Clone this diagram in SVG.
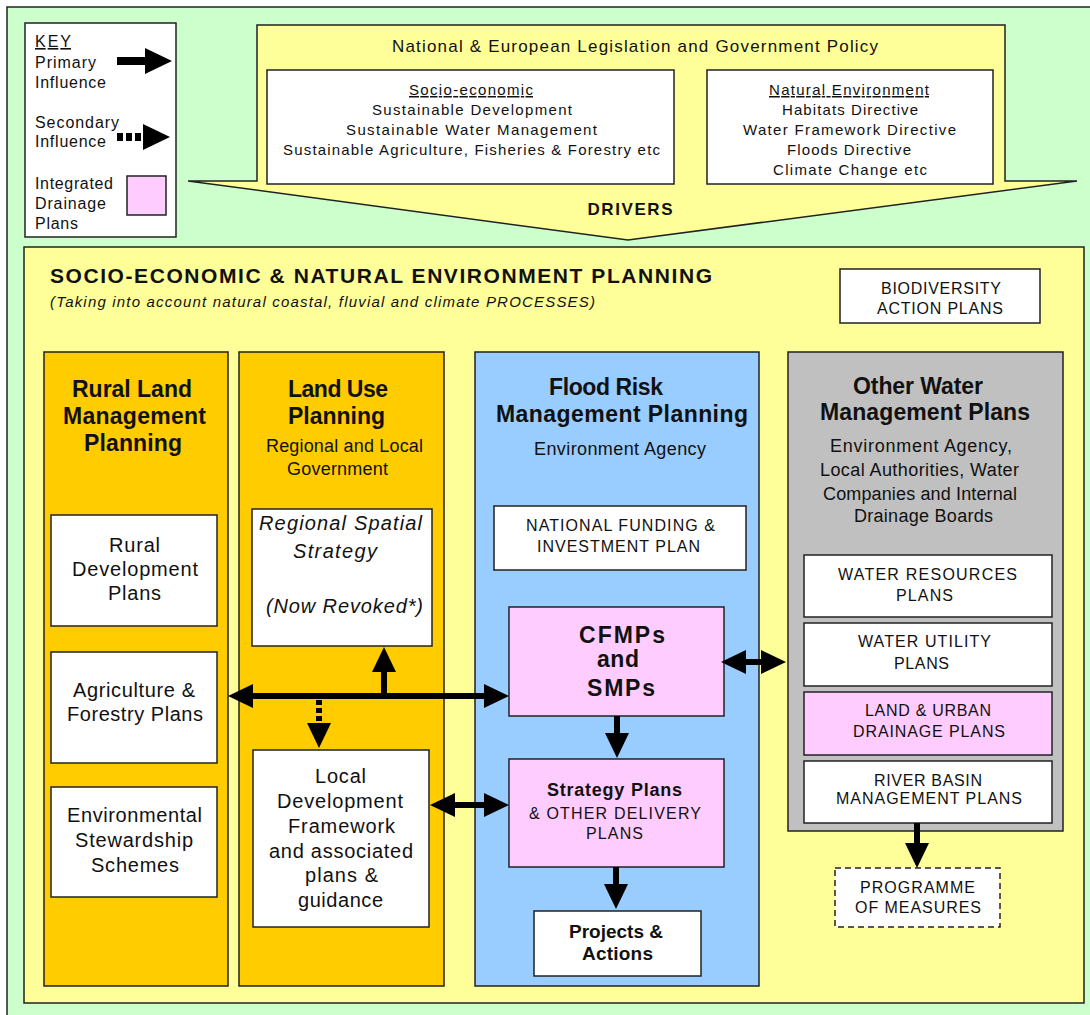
<svg xmlns="http://www.w3.org/2000/svg" width="1090" height="1015" viewBox="0 0 1090 1015">
<defs>
<style>
text{font-family:"Liberation Sans",Arial,sans-serif;fill:#111;}
.box{stroke:#222;stroke-width:1.5;}
.w{fill:#fff;}
.pk{fill:#ffccff;}
.ye{fill:#ffff99;}
.or{fill:#ffcc00;}
.bl{fill:#99ccff;}
.gr{fill:#c0c0c0;}
.c{text-anchor:middle;}
.k{font-size:16px;}
.s14{font-size:15px;}
.s15{font-size:16px;}
.s17{font-size:18px;}
.s18{font-size:20px;}
.hd{font-size:23px;font-weight:bold;}
.b{font-weight:bold;}
.it{font-style:italic;}
.u{text-decoration:underline;}
.arr{stroke:#000;stroke-width:6;fill:none;}
</style>
<marker id="ah" viewBox="0 -13 26 26" refX="0" refY="0" markerWidth="26" markerHeight="26" markerUnits="userSpaceOnUse" orient="auto-start-reverse" overflow="visible"><path d="M0,-12 L25,0 L0,12 z" fill="#000"/></marker>
<marker id="kh" viewBox="0 -14 28 28" refX="0" refY="0" markerWidth="28" markerHeight="28" markerUnits="userSpaceOnUse" orient="auto" overflow="visible"><path d="M0,-13 L27,0 L0,13 z" fill="#000"/></marker>
</defs>

<rect x="7" y="7" width="1095" height="1020" fill="#ccffcc" stroke="#222" stroke-width="1.5"/>

<g id="key">
<rect class="box w" x="25" y="23" width="151" height="214"/>
<text class="k u" x="35" y="47" textLength="36" lengthAdjust="spacing">KEY</text>
<text class="k" x="35" y="68" textLength="61" lengthAdjust="spacing">Primary</text>
<text class="k" x="35" y="88" textLength="71" lengthAdjust="spacing">Influence</text>
<text class="k" x="35" y="128" textLength="84" lengthAdjust="spacing">Secondary</text>
<text class="k" x="35" y="147" textLength="71" lengthAdjust="spacing">Influence</text>
<text class="k" x="35" y="189" textLength="78" lengthAdjust="spacing">Integrated</text>
<text class="k" x="35" y="209" textLength="71" lengthAdjust="spacing">Drainage</text>
<text class="k" x="35" y="229" textLength="43" lengthAdjust="spacing">Plans</text>
<line x1="117" y1="61" x2="145" y2="61" stroke="#000" stroke-width="8" marker-end="url(#kh)"/>
<line x1="117" y1="137" x2="143" y2="137" stroke="#000" stroke-width="8" stroke-dasharray="6 3" marker-end="url(#kh)"/>
<rect class="box pk" x="127" y="176" width="39" height="39"/>
</g>

<g id="drivers">
<polygon class="box ye" points="257,25 1005,25 1005,181 1077,181 628,240 188,181 257,181"/>
<text class="c" x="635" y="52" style="font-size:17px" textLength="486" lengthAdjust="spacing">National &amp; European Legislation and Government Policy</text>
<text class="c b" x="630" y="215" style="font-size:17px" textLength="85" lengthAdjust="spacing">DRIVERS</text>
</g>

<g id="socio-economic">
<rect class="box w" x="267" y="70" width="407" height="114"/>
<text class="c s14 u" x="471" y="95" textLength="124" lengthAdjust="spacing">Socio-economic</text>
<text class="c s14" x="472" y="115" textLength="200" lengthAdjust="spacing">Sustainable Development</text>
<text class="c s14" x="471.5" y="135" textLength="251" lengthAdjust="spacing">Sustainable Water Management</text>
<text class="c s14" x="471.5" y="155" textLength="377" lengthAdjust="spacing">Sustainable Agriculture, Fisheries &amp; Forestry etc</text>
</g>

<g id="natural-environment">
<rect class="box w" x="707" y="70" width="286" height="114"/>
<text class="c s14 u" x="849" y="95" textLength="160" lengthAdjust="spacing">Natural Environment</text>
<text class="c s14" x="850" y="115" textLength="136" lengthAdjust="spacing">Habitats Directive</text>
<text class="c s14" x="849.5" y="135" textLength="213" lengthAdjust="spacing">Water Framework Directive</text>
<text class="c s14" x="849" y="155" textLength="124" lengthAdjust="spacing">Floods Directive</text>
<text class="c s14" x="850" y="175" textLength="154" lengthAdjust="spacing">Climate Change etc</text>
</g>

<g id="planning">
<rect class="box ye" x="24" y="247" width="1060" height="756"/>
<text class="b" x="50" y="283" style="font-size:21px" textLength="662" lengthAdjust="spacing">SOCIO-ECONOMIC &amp; NATURAL ENVIRONMENT PLANNING</text>
<text class="it" x="50" y="307" style="font-size:15px" textLength="545" lengthAdjust="spacing">(Taking into account natural coastal, fluvial and climate PROCESSES)</text>
</g>

<g id="biodiversity">
<rect class="box w" x="840" y="269" width="200" height="54"/>
<text class="c s15" x="941" y="294" textLength="120" lengthAdjust="spacing">BIODIVERSITY</text>
<text class="c s15" x="940" y="314" textLength="126" lengthAdjust="spacing">ACTION PLANS</text>
</g>

<g id="rural-land">
<rect class="box or" x="44" y="352" width="184" height="634"/>
<text class="c hd" x="132" y="397" textLength="120" lengthAdjust="spacing">Rural Land</text>
<text class="c hd" x="134.5" y="424" textLength="143" lengthAdjust="spacing">Management</text>
<text class="c hd" x="133" y="451" textLength="98" lengthAdjust="spacing">Planning</text>
</g>

<g id="rural-development">
<rect class="box w" x="51" y="515" width="166" height="111"/>
<text class="c s18" x="134.5" y="552" textLength="51" lengthAdjust="spacing">Rural</text>
<text class="c s18" x="135" y="576" textLength="126" lengthAdjust="spacing">Development</text>
<text class="c s18" x="134.5" y="600" textLength="53" lengthAdjust="spacing">Plans</text>
</g>

<g id="agriculture">
<rect class="box w" x="51" y="652" width="166" height="111"/>
<text class="c s18" x="134" y="697" textLength="122" lengthAdjust="spacing">Agriculture &amp;</text>
<text class="c s18" x="135" y="721" textLength="136" lengthAdjust="spacing">Forestry Plans</text>
</g>

<g id="stewardship">
<rect class="box w" x="51" y="787" width="166" height="110"/>
<text class="c s18" x="134.5" y="822" textLength="135" lengthAdjust="spacing">Environmental</text>
<text class="c s18" x="134" y="847" textLength="118" lengthAdjust="spacing">Stewardship</text>
<text class="c s18" x="135" y="872" textLength="88" lengthAdjust="spacing">Schemes</text>
</g>

<g id="land-use">
<rect class="box or" x="239" y="352" width="205" height="634"/>
<text class="c hd" x="338" y="397" textLength="100" lengthAdjust="spacing">Land Use</text>
<text class="c hd" x="336.5" y="424" textLength="97" lengthAdjust="spacing">Planning</text>
<text class="c s17" x="344.5" y="452" textLength="157" lengthAdjust="spacing">Regional and Local</text>
<text class="c s17" x="337.5" y="475" textLength="101" lengthAdjust="spacing">Government</text>
</g>

<g id="regional-spatial">
<rect class="box w" x="252" y="509" width="180" height="137"/>
<text class="c s18 it" x="340.5" y="530" textLength="163" lengthAdjust="spacing">Regional Spatial</text>
<text class="c s18 it" x="335" y="558" textLength="84" lengthAdjust="spacing">Strategy</text>
<text class="c s18 it" x="344.5" y="613" textLength="157" lengthAdjust="spacing">(Now Revoked*)</text>
</g>

<g id="local-development">
<rect class="box w" x="253" y="750" width="176" height="177"/>
<text class="c s18" x="340.5" y="783" textLength="51" lengthAdjust="spacing">Local</text>
<text class="c s18" x="340" y="808" textLength="126" lengthAdjust="spacing">Development</text>
<text class="c s18" x="341.5" y="833" textLength="107" lengthAdjust="spacing">Framework</text>
<text class="c s18" x="341" y="858" textLength="144" lengthAdjust="spacing">and associated</text>
<text class="c s18" x="341.5" y="882" textLength="73" lengthAdjust="spacing">plans &amp;</text>
<text class="c s18" x="340.5" y="907" textLength="85" lengthAdjust="spacing">guidance</text>
</g>

<g id="flood-risk">
<rect class="box bl" x="475" y="352" width="284" height="634"/>
<text class="c hd" x="606" y="395" textLength="114" lengthAdjust="spacing">Flood Risk</text>
<text class="c hd" x="622" y="422" textLength="252" lengthAdjust="spacing">Management Planning</text>
<text class="c s17" x="620" y="455" textLength="172" lengthAdjust="spacing">Environment Agency</text>
</g>

<g id="national-funding">
<rect class="box w" x="494" y="506" width="252" height="64"/>
<text class="c s15" x="620.5" y="531" textLength="189" lengthAdjust="spacing">NATIONAL FUNDING &amp;</text>
<text class="c s15" x="618.5" y="552" textLength="163" lengthAdjust="spacing">INVESTMENT PLAN</text>
</g>

<g id="cfmps">
<rect class="box pk" x="509" y="607" width="215" height="109"/>
<text class="c hd" x="622" y="643" textLength="86" lengthAdjust="spacing">CFMPs</text>
<text class="c hd" x="618" y="667" textLength="42" lengthAdjust="spacing">and</text>
<text class="c hd" x="621" y="696" textLength="68" lengthAdjust="spacing">SMPs</text>
</g>

<g id="strategy-plans">
<rect class="box pk" x="509" y="759" width="215" height="108"/>
<text class="c b" x="614.5" y="796" style="font-size:18px" textLength="135" lengthAdjust="spacing">Strategy Plans</text>
<text class="c s15" x="615" y="819" textLength="172" lengthAdjust="spacing">&amp; OTHER DELIVERY</text>
<text class="c s15" x="614.5" y="839" textLength="57" lengthAdjust="spacing">PLANS</text>
</g>

<g id="projects">
<rect class="box w" x="534" y="911" width="167" height="65"/>
<text class="c b" x="616" y="938" style="font-size:19px" textLength="94" lengthAdjust="spacing">Projects &amp;</text>
<text class="c b" x="617.5" y="960" style="font-size:19px" textLength="71" lengthAdjust="spacing">Actions</text>
</g>

<g id="other-water">
<rect class="box gr" x="788" y="352" width="275" height="479"/>
<text class="c hd" x="918" y="394" textLength="130" lengthAdjust="spacing">Other Water</text>
<text class="c hd" x="925" y="420" textLength="210" lengthAdjust="spacing">Management Plans</text>
<text class="c s17" x="921" y="452" textLength="182" lengthAdjust="spacing">Environment Agency,</text>
<text class="c s17" x="919.5" y="476" textLength="199" lengthAdjust="spacing">Local Authorities, Water</text>
<text class="c s17" x="920" y="500" textLength="194" lengthAdjust="spacing">Companies and Internal</text>
<text class="c s17" x="923.5" y="522" textLength="139" lengthAdjust="spacing">Drainage Boards</text>
</g>

<g id="water-resources">
<rect class="box w" x="804" y="555" width="248" height="62"/>
<text class="c s15" x="927.5" y="580" textLength="179" lengthAdjust="spacing">WATER RESOURCES</text>
<text class="c s15" x="924.5" y="601" textLength="57" lengthAdjust="spacing">PLANS</text>
</g>

<g id="water-utility">
<rect class="box w" x="804" y="623" width="248" height="63"/>
<text class="c s15" x="924.5" y="647" textLength="133" lengthAdjust="spacing">WATER UTILITY</text>
<text class="c s15" x="921.5" y="669" textLength="55" lengthAdjust="spacing">PLANS</text>
</g>

<g id="land-urban-drainage">
<rect class="box pk" x="804" y="692" width="248" height="63"/>
<text class="c s15" x="928" y="716" textLength="126" lengthAdjust="spacing">LAND &amp; URBAN</text>
<text class="c s15" x="929" y="737" textLength="152" lengthAdjust="spacing">DRAINAGE PLANS</text>
</g>

<g id="river-basin">
<rect class="box w" x="804" y="761" width="248" height="62"/>
<text class="c s15" x="928" y="786" textLength="108" lengthAdjust="spacing">RIVER BASIN</text>
<text class="c s15" x="929" y="804" textLength="186" lengthAdjust="spacing">MANAGEMENT PLANS</text>
</g>

<g id="programme">
<rect class="w" x="835" y="868" width="165" height="59" stroke="#222" stroke-width="1.5" stroke-dasharray="6 4"/>
<text class="c s15" x="917.5" y="893" textLength="115" lengthAdjust="spacing">PROGRAMME</text>
<text class="c s15" x="918" y="913" textLength="126" lengthAdjust="spacing">OF MEASURES</text>
</g>

<g id="connectors">
<line class="arr" x1="253" y1="696" x2="484" y2="696" stroke-width="7" marker-start="url(#ah)" marker-end="url(#ah)"/>
<line class="arr" x1="384" y1="699" x2="384" y2="672" marker-end="url(#ah)"/>
<line class="arr" x1="319" y1="700" x2="319" y2="723" stroke-dasharray="5 3" marker-end="url(#ah)"/>
<line class="arr" x1="746" y1="662" x2="761" y2="662" stroke-width="5" marker-start="url(#ah)" marker-end="url(#ah)"/>
<line class="arr" x1="617" y1="716" x2="617" y2="733" marker-end="url(#ah)"/>
<line class="arr" x1="455" y1="805" x2="484" y2="805" marker-start="url(#ah)" marker-end="url(#ah)"/>
<line class="arr" x1="616" y1="867" x2="616" y2="884" marker-end="url(#ah)"/>
<line class="arr" x1="917" y1="823" x2="917" y2="843" marker-end="url(#ah)"/>
</g>
</svg>
